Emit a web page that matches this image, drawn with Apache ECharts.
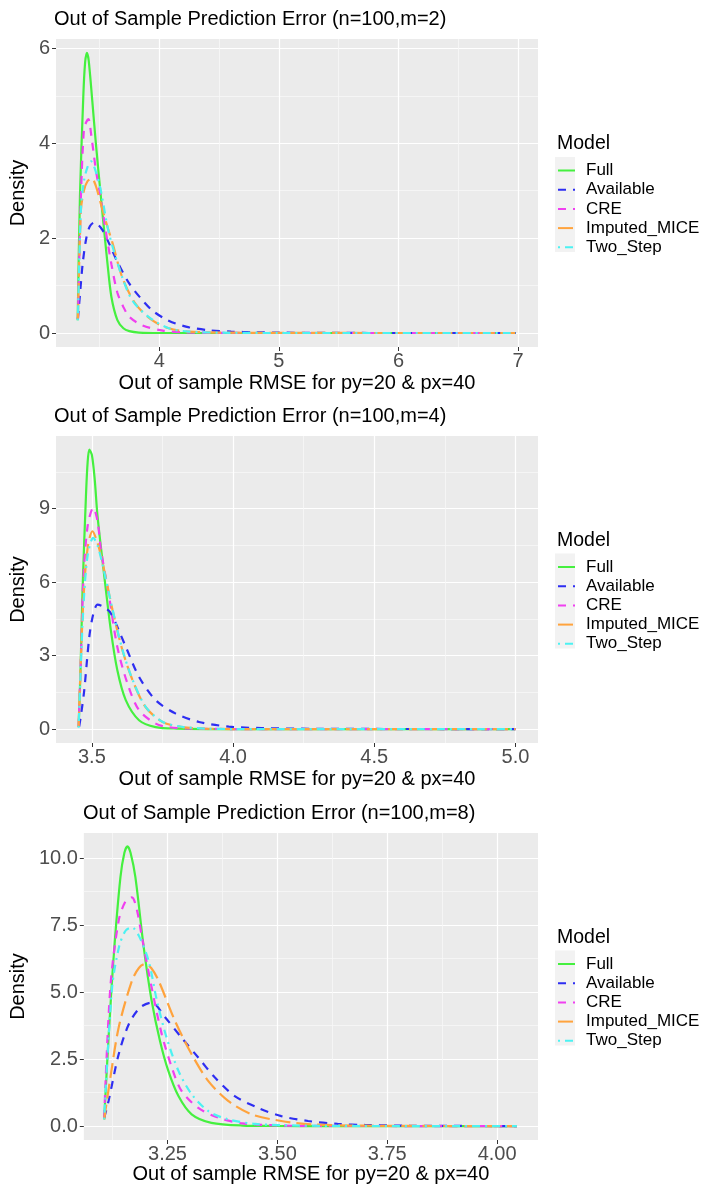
<!DOCTYPE html>
<html><head><meta charset="utf-8">
<script src="https://cdn.jsdelivr.net/npm/echarts@6/dist/echarts.min.js"></script>
<style>html,body{margin:0;padding:0;background:#fff}#c{width:707px;height:1186px}</style>
</head><body><div id="c"></div>
<script>
const seriesNames = ['Full','Available','CRE','Imputed_MICE','Two_Step'];
const panelTitles = ['Out of Sample Prediction Error (n=100,m=2)','Out of Sample Prediction Error (n=100,m=4)','Out of Sample Prediction Error (n=100,m=8)'];
const xAxisTitle = 'Out of sample RMSE for py=20 & px=40';
const yAxisTitle = 'Density';
const legendTitle = 'Model';

// Panel 1 (m=2)
const p1Full = [[3.318,0.27],[3.337,2.88],[3.365,4.99],[3.38,5.7],[3.395,5.91],[3.41,5.75],[3.44,4.9],[3.47,4.0],[3.52,2.66],[3.567,1.47],[3.60,0.76],[3.65,0.27],[3.70,0.1],[3.75,0.04],[3.83,0.01],[4.0,0.0],[5.0,0],[6.0,0],[6.98,0]];
const p1Available = [[3.32,0.3],[3.34,0.9],[3.36,1.47],[3.39,2.0],[3.42,2.25],[3.457,2.33],[3.49,2.28],[3.526,2.17],[3.58,1.89],[3.65,1.5],[3.75,1.04],[3.85,0.72],[3.94,0.48],[4.04,0.31],[4.136,0.2],[4.25,0.12],[4.41,0.06],[4.6,0.03],[4.8,0.015],[5.0,0.008],[5.5,0.002],[6.0,0],[6.98,0]];
const p1CRE = [[3.32,0.3],[3.345,2.88],[3.37,4.29],[3.39,4.45],[3.409,4.51],[3.43,4.2],[3.47,3.44],[3.50,3.0],[3.55,2.2],[3.60,1.45],[3.65,0.85],[3.70,0.55],[3.75,0.34],[3.86,0.16],[4.03,0.05],[4.2,0.015],[4.5,0.003],[5.0,0],[6.98,0]];
const p1Imputed = [[3.32,0.3],[3.345,2.59],[3.37,3.0],[3.40,3.2],[3.437,3.26],[3.47,3.1],[3.51,2.74],[3.56,2.3],[3.61,1.89],[3.69,1.18],[3.80,0.62],[3.94,0.27],[4.08,0.1],[4.25,0.03],[4.5,0.01],[5.0,0.002],[6.98,0]];
const p1TwoStep = [[3.32,0.27],[3.345,2.6],[3.37,3.2],[3.40,3.5],[3.43,3.62],[3.47,3.4],[3.51,3.02],[3.58,2.1],[3.69,1.18],[3.775,0.69],[3.91,0.34],[4.08,0.1],[4.25,0.03],[4.5,0.008],[5.0,0],[6.98,0]];

// Panel 2 (m=4)
const p2Full = [[3.453,0.08],[3.46,2.5],[3.467,5.69],[3.479,9.52],[3.485,10.9],[3.491,11.41],[3.50,11.2],[3.51,10.2],[3.52,8.7],[3.544,6.24],[3.567,4.05],[3.59,2.41],[3.62,1.18],[3.667,0.36],[3.726,0.08],[3.8,0.02],[4.0,0],[5.0,0]];
const p2Available = [[3.455,0.1],[3.463,0.7],[3.473,1.59],[3.491,3.78],[3.505,4.7],[3.52,5.08],[3.54,5.0],[3.567,4.73],[3.62,3.36],[3.667,2.13],[3.726,1.18],[3.797,0.63],[3.879,0.29],[3.985,0.1],[4.1,0.04],[4.3,0.01],[4.6,0.002],[5.0,0]];
const p2CRE = [[3.453,0.1],[3.46,2.5],[3.47,6.1],[3.485,8.3],[3.505,9.04],[3.52,8.5],[3.532,7.33],[3.561,5.42],[3.59,3.36],[3.626,1.86],[3.667,0.77],[3.726,0.22],[3.77,0.08],[3.85,0.02],[4.0,0],[5.0,0]];
const p2Imputed = [[3.453,0.1],[3.46,2.5],[3.47,5.3],[3.485,7.4],[3.502,8.08],[3.52,7.6],[3.538,6.79],[3.573,4.87],[3.608,3.23],[3.644,2.0],[3.69,0.9],[3.75,0.29],[3.82,0.08],[3.9,0.02],[4.0,0],[5.0,0]];
const p2TwoStep = [[3.453,0.05],[3.46,2.3],[3.47,5.0],[3.485,7.1],[3.505,7.81],[3.52,7.5],[3.538,6.7],[3.573,4.9],[3.608,3.25],[3.644,2.02],[3.69,0.92],[3.75,0.3],[3.82,0.09],[3.9,0.02],[4.0,0],[5.0,0]];

// Panel 3 (m=8)
const p3Full = [[3.106,0.25],[3.116,3.3],[3.128,6.42],[3.143,9.29],[3.152,10.2],[3.159,10.44],[3.166,10.2],[3.177,9.29],[3.196,6.67],[3.214,4.68],[3.233,3.18],[3.252,2.06],[3.275,1.12],[3.305,0.44],[3.35,0.12],[3.42,0.02],[3.5,0.005],[3.6,0],[4.045,0]];
const p3Available = [[3.106,0.3],[3.116,0.94],[3.139,2.68],[3.162,3.8],[3.188,4.43],[3.214,4.61],[3.245,4.05],[3.282,3.3],[3.32,2.56],[3.358,1.81],[3.403,1.12],[3.456,0.68],[3.509,0.37],[3.57,0.19],[3.637,0.08],[3.7,0.04],[3.8,0.015],[3.9,0.005],[4.045,0]];
const p3CRE = [[3.106,0.3],[3.12,5.17],[3.139,7.67],[3.155,8.4],[3.169,8.54],[3.18,8.1],[3.192,7.04],[3.214,5.17],[3.237,3.43],[3.26,2.18],[3.282,1.31],[3.32,0.68],[3.366,0.31],[3.42,0.1],[3.51,0.02],[3.6,0.005],[4.045,0]];
const p3Imputed = [[3.106,0.25],[3.12,1.8],[3.139,3.68],[3.169,5.42],[3.185,5.9],[3.199,6.05],[3.213,5.9],[3.23,5.42],[3.267,3.93],[3.305,2.68],[3.343,1.68],[3.388,0.94],[3.441,0.44],[3.509,0.19],[3.58,0.06],[3.7,0.015],[3.85,0.003],[4.045,0]];
const p3TwoStep = [[3.106,0.25],[3.124,5.17],[3.14,6.7],[3.155,7.3],[3.169,7.42],[3.185,7.1],[3.207,6.17],[3.226,4.68],[3.248,3.3],[3.275,2.06],[3.305,1.19],[3.343,0.56],[3.388,0.25],[3.45,0.08],[3.55,0.02],[3.7,0.003],[4.045,0]];

// Axis ticks (major / minor gridlines) and limits
const p1XTicks = [4,5,6,7], p1XMinor = [3.5,4.5,5.5,6.5], p1YTicks = [0,2,4,6], p1YMinor = [1,3,5];
const p2XTicks = [3.5,4.0,4.5,5.0], p2XMinor = [3.75,4.25,4.75], p2YTicks = [0,3,6,9], p2YMinor = [1.5,4.5,7.5,10.5];
const p3XTicks = [3.25,3.5,3.75,4.0], p3XMinor = [3.125,3.375,3.625,3.875], p3YTicks = [0,2.5,5,7.5,10], p3YMinor = [1.25,3.75,6.25,8.75];
const p1XLimits = [3.137,7.166], p1YLimits = [-0.295,6.2];
const p2XLimits = [3.373,5.08], p2YLimits = [-0.57,11.97];
const p3XLimits = [3.0597,4.093], p3YLimits = [-0.52,10.94];
const xDecimals = [0,1,2], yDecimals = [0,0,1];

const colors = ['#45F03F','#2E2EF2','#F03FF0','#FFA33D','#4CF2F2'];
const dashes = ['solid',[8,7],[8,7],[15,6],[2,5,8,5]];

const panelData = [
  [p1Full,p1Available,p1CRE,p1Imputed,p1TwoStep],
  [p2Full,p2Available,p2CRE,p2Imputed,p2TwoStep],
  [p3Full,p3Available,p3CRE,p3Imputed,p3TwoStep]
];
const ticks = [
  {x:p1XTicks,xm:p1XMinor,y:p1YTicks,ym:p1YMinor,xl:p1XLimits,yl:p1YLimits},
  {x:p2XTicks,xm:p2XMinor,y:p2YTicks,ym:p2YMinor,xl:p2XLimits,yl:p2YLimits},
  {x:p3XTicks,xm:p3XMinor,y:p3YTicks,ym:p3YMinor,xl:p3XLimits,yl:p3YLimits}
];

// layout
const FONT = '"Liberation Sans", Arial, sans-serif';
const grids = [
  {left:53, top:39, width:485, height:308},
  {left:53, top:436, width:485, height:307},
  {left:82, top:833, width:456, height:307}
];
const xNameGap = [26,26,24];
const yNameGap = [20,20,49];

const option = {animation:false, grid:[], xAxis:[], yAxis:[], series:[], title:[], legend:[], graphic:[]};

grids.forEach((g,i)=>{
  option.grid.push(Object.assign({backgroundColor:'#EBEBEB', show:true, borderWidth:0}, g));
  const t = ticks[i];
  option.xAxis.push({
    type:'value', gridIndex:i, min:t.xl[0], max:t.xl[1],
    name:xAxisTitle, nameLocation:'middle', nameGap:xNameGap[i],
    nameTextStyle:{fontFamily:FONT, fontSize:20, color:'#000'},
    axisLine:{show:false, onZero:false},
    axisTick:{show:true, length:4, lineStyle:{color:'#333', width:1}, customValues:t.x},
    axisLabel:{show:true, customValues:t.x, margin:4, fontFamily:FONT, fontSize:20, color:'#4D4D4D',
      formatter:v=>Number(v).toFixed(xDecimals[i])},
    splitLine:{show:true, lineStyle:{color:'#FFFFFF', width:1.2}}
  });
  option.xAxis.push({
    type:'value', gridIndex:i, min:t.xl[0], max:t.xl[1],
    axisLine:{show:false, onZero:false}, axisLabel:{show:false},
    axisTick:{show:false, customValues:t.xm},
    splitLine:{show:true, lineStyle:{color:'#F8F8F8', width:0.8}}
  });
  option.yAxis.push({
    type:'value', gridIndex:i, min:t.yl[0], max:t.yl[1],
    name:yAxisTitle, nameLocation:'middle', nameGap:yNameGap[i],
    nameTextStyle:{fontFamily:FONT, fontSize:20, color:'#000'},
    axisLine:{show:false, onZero:false},
    axisTick:{show:true, length:4, lineStyle:{color:'#333', width:1}, customValues:t.y},
    axisLabel:{show:true, customValues:t.y, margin:6, fontFamily:FONT, fontSize:20, color:'#4D4D4D',
      formatter:v=>Number(v).toFixed(yDecimals[i])},
    splitLine:{show:true, lineStyle:{color:'#FFFFFF', width:1.2}}
  });
  option.yAxis.push({
    type:'value', gridIndex:i, min:t.yl[0], max:t.yl[1],
    axisLine:{show:false, onZero:false}, axisLabel:{show:false},
    axisTick:{show:false, customValues:t.ym},
    splitLine:{show:true, lineStyle:{color:'#F8F8F8', width:0.8}}
  });
  panelData[i].forEach((d,k)=>{
    option.series.push({
      type:'line', name:seriesNames[k], xAxisIndex:i*2, yAxisIndex:i*2, data:d,
      showSymbol:false, symbol:'none', smooth:0.3, clip:true,
      lineStyle:{color:colors[k], width:2.2, type:dashes[k]}, itemStyle:{color:colors[k]}
    });
  });
  option.title.push({text:panelTitles[i], left:g.left-4, top:g.top-35,
    textStyle:{fontFamily:FONT, fontSize:20, fontWeight:'normal', color:'#000'}});
  const center = g.top + g.height/2;
  option.title.push({text:legendTitle, left:552, top:center-64,
    textStyle:{fontFamily:FONT, fontSize:19.5, fontWeight:'normal', color:'#000'}});
  option.graphic.push({type:'rect', shape:{x:555, y:center-36, width:20, height:95}, style:{fill:'#F2F2F2'}, z:-1});
  option.legend.push({data:seriesNames, orient:'vertical', left:552, top:center-36,
    itemWidth:17, itemHeight:17, itemGap:2.2,
    itemStyle:{opacity:0, borderWidth:0},
    textStyle:{fontFamily:FONT, fontSize:17, color:'#000', padding:[0,0,0,6]},
    selectedMode:false});
});

const chart = echarts.init(document.getElementById('c'), null, {renderer:'canvas'});
chart.setOption(option);
</script>
</body></html>
